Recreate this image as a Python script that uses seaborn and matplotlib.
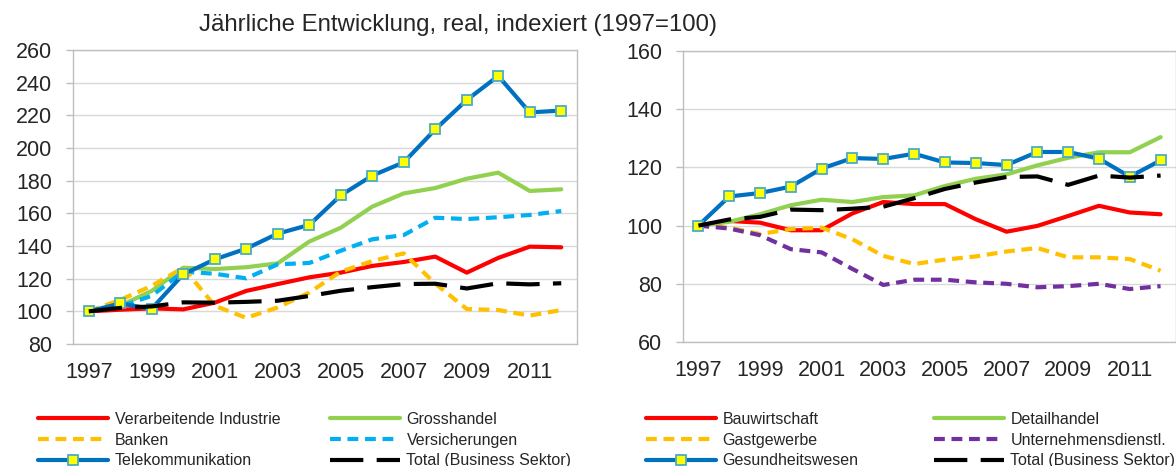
import numpy as np
import pandas as pd
import matplotlib
matplotlib.use("Agg")
import matplotlib.pyplot as plt
import seaborn as sns

years = list(range(1997, 2013))

# linke Grafik
verarbeitende_industrie = [100, 101, 101.8, 101.2, 105.3, 112.5, 116.7, 120.8, 123.7, 127.8, 130.2, 133.5, 123.7, 132.7, 139.6, 139.2]
grosshandel = [100, 103.5, 112.5, 126.7, 125.9, 127.0, 129.4, 142.7, 151.2, 164.1, 172.2, 175.5, 181.2, 184.9, 173.7, 174.7]
banken = [100, 107.0, 115.6, 126.7, 103.4, 96.0, 102.4, 111.5, 124.3, 130.8, 135.5, 117.0, 101.4, 100.8, 97.4, 100.8]
versicherungen = [100, 103.0, 109.5, 124.3, 123.0, 120.2, 128.8, 129.6, 137.1, 144.1, 146.7, 157.3, 156.5, 157.6, 159.0, 161.4]
telekommunikation = [100, 104.8, 101.6, 122.7, 131.8, 138.4, 147.6, 152.9, 171.0, 183.1, 191.2, 211.4, 229.4, 244.1, 221.8, 222.9]
total = [100, 102.1, 103.0, 105.5, 105.3, 105.8, 106.5, 109.4, 112.6, 114.8, 116.7, 116.9, 114.0, 117.2, 116.5, 117.2]

# rechte Grafik
bauwirtschaft = [100, 101.6, 101.0, 98.4, 98.4, 104.2, 108.1, 107.4, 107.4, 102.2, 97.9, 99.9, 103.3, 106.8, 104.5, 103.9]
detailhandel = [100, 101.3, 103.9, 107.0, 108.9, 108.1, 109.8, 110.4, 113.6, 116.1, 117.6, 120.7, 123.3, 125.2, 125.2, 130.4]
gastgewerbe = [100, 99.3, 97.1, 98.8, 99.3, 95.3, 89.6, 86.8, 88.3, 89.4, 91.1, 92.3, 89.1, 89.1, 88.5, 84.5]
unternehmensdienstl = [100, 99.0, 96.7, 91.9, 90.8, 85.1, 79.6, 81.4, 81.4, 80.5, 80.0, 78.8, 79.2, 80.0, 78.2, 79.2]
gesundheitswesen = [100, 110.0, 111.2, 113.4, 119.6, 123.2, 122.9, 124.7, 121.7, 121.5, 120.8, 125.3, 125.3, 123.0, 116.8, 122.4]

subtitle = "Jährliche Entwicklung, real, indexiert (1997=100)"

sns.set_style("white")
plt.rcParams['font.family'] = ['Liberation Sans', 'DejaVu Sans']

SHORT = (0, (2.6, 1.6))
LONG = (0, (8, 3.2))
LW = 3

styles = {
    "solid": dict(linestyle="-"),
    "short": dict(linestyle=SHORT),
    "long": dict(linestyle=LONG),
    "marker": dict(linestyle="-", marker="s", markersize=6.5, markerfacecolor="#FFFF00",
                   markeredgecolor="#4BACC6", markeredgewidth=1.3),
}


def draw_panel(ax, series, ylim, step):
    x = np.arange(len(years))
    handles = {}
    for name, vals, color, kind in series:
        sns.lineplot(x=x, y=vals, ax=ax, color=color, lw=LW, **styles[kind])
        handles[name] = ax.get_lines()[-1]
    ax.set_xlim(-0.5, len(years) - 0.5)
    ax.set_ylim(*ylim)
    ax.set_yticks(np.arange(ylim[0], ylim[1] + 1, step))
    ax.set_xticks(x[::2])
    ax.set_xticklabels([str(y) for y in years[::2]])
    ax.set_xticks(np.arange(-0.5, len(years), 1), minor=True)
    ax.tick_params(axis="x", which="major", length=0, labelsize=15.5, pad=13)
    ax.tick_params(axis="x", which="minor", length=5, width=1, color="#BFBFBF", direction="out")
    ax.tick_params(axis="y", length=5, width=1, color="#BFBFBF", labelsize=15.5, pad=10, left=True)
    ax.grid(axis="y", color="#D9D9D9", lw=1)
    ax.set_axisbelow(True)
    for sp in ax.spines.values():
        sp.set_color("#BFBFBF")
        sp.set_linewidth(1)
    ax.set_xlabel("")
    ax.set_ylabel("")
    return handles


fig = plt.figure(figsize=(11.76, 4.66), dpi=100)
W, H = 1176, 466
ax1 = fig.add_axes([73 / W, 1 - 344 / H, 504 / W, 294 / H])
ax2 = fig.add_axes([683 / W, 1 - 342 / H, 493 / W, 291 / H])

left_series = [
    ("Verarbeitende Industrie", verarbeitende_industrie, "#FF0000", "solid"),
    ("Grosshandel", grosshandel, "#92D050", "solid"),
    ("Versicherungen", versicherungen, "#00B0F0", "short"),
    ("Banken", banken, "#FFC000", "short"),
    ("Telekommunikation", telekommunikation, "#0070C0", "marker"),
    ("Total (Business Sektor)", total, "#000000", "long"),
]
right_series = [
    ("Bauwirtschaft", bauwirtschaft, "#FF0000", "solid"),
    ("Detailhandel", detailhandel, "#92D050", "solid"),
    ("Gastgewerbe", gastgewerbe, "#FFC000", "short"),
    ("Unternehmensdienstl.", unternehmensdienstl, "#7030A0", "short"),
    ("Gesundheitswesen", gesundheitswesen, "#0070C0", "marker"),
    ("Total (Business Sektor)", total, "#000000", "long"),
]

h1 = draw_panel(ax1, left_series, (80, 260), 20)
h2 = draw_panel(ax2, right_series, (60, 160), 20)

order1 = ["Verarbeitende Industrie", "Banken", "Telekommunikation",
          "Grosshandel", "Versicherungen", "Total (Business Sektor)"]
order2 = ["Bauwirtschaft", "Gastgewerbe", "Gesundheitswesen",
          "Detailhandel", "Unternehmensdienstl.", "Total (Business Sektor)"]

fig.legend([h1[k] for k in order1], order1, ncol=2, loc="upper left",
           bbox_to_anchor=(38 / W, 1 - 412 / H), frameon=False, fontsize=11.5,
           handlelength=4.4, handletextpad=0.4, columnspacing=3.1,
           borderpad=0, borderaxespad=0, labelspacing=0.35)
fig.legend([h2[k] for k in order2], order2, ncol=2, loc="upper left",
           bbox_to_anchor=(646 / W, 1 - 412 / H), frameon=False, fontsize=11.5,
           handlelength=4.4, handletextpad=0.4, columnspacing=4.7,
           borderpad=0, borderaxespad=0, labelspacing=0.35)

fig.text(458 / W, 1 - 25 / H, subtitle, ha="center", va="center", fontsize=17.3)

fig.savefig("out.png", dpi=100)
plt.close(fig)
